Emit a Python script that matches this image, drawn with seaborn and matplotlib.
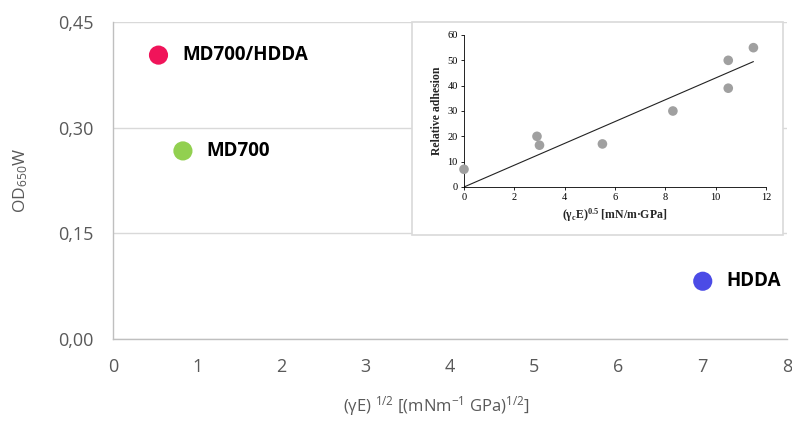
import matplotlib
matplotlib.use("Agg")
import matplotlib.pyplot as plt
import seaborn as sns
import pandas as pd
from matplotlib.patches import Rectangle

# Main chart data
labels = ['MD700/HDDA', 'MD700', 'HDDA']
x_main = [0.54, 0.83, 7.0]
y_main = [0.403, 0.267, 0.082]
colors = ['#F0145A', '#92D050', '#4B4BE6']

# Inset data
x_ins = [0.0, 2.9, 3.0, 5.5, 8.3, 10.5, 10.5, 11.5]
y_ins = [7, 20, 16.5, 17, 30, 50, 39, 55]
trend_x = [0.0, 11.5]
trend_y = [0.0, 49.5]

sns.set_theme(style='white')
plt.rcParams['font.family'] = ['Open Sans', 'DejaVu Sans']
plt.rcParams['mathtext.default'] = 'regular'

fig = plt.figure(figsize=(7.92, 4.24), dpi=100)
ax = fig.add_axes([113/792, 1-339/424, (787-113)/792, (339-22)/424])

df = pd.DataFrame({'x': x_main, 'y': y_main, 'label': labels})
sns.scatterplot(data=df, x='x', y='y', hue='label', palette=colors,
                s=190, edgecolor='none', legend=False, ax=ax, zorder=3)
for xi, yi, lab in zip(x_main, y_main, labels):
    ax.text(xi + 0.28, yi, lab, fontsize=13.5, fontweight='bold',
            color='black', va='center', ha='left', zorder=4)

ax.set_xlim(0, 8)
ax.set_ylim(0, 0.45)
ax.set_xticks(range(0, 9))
ax.set_yticks([0, 0.15, 0.30, 0.45])
ax.set_yticklabels(['0,00', '0,15', '0,30', '0,45'])
ax.tick_params(axis='both', labelsize=13, colors='#595959', length=0)
ax.tick_params(axis='x', pad=14)
ax.tick_params(axis='y', pad=14)
ax.yaxis.grid(True, color='#D9D9D9', linewidth=1)
ax.set_axisbelow(True)
for side in ['top', 'right']:
    ax.spines[side].set_visible(False)
for side in ['left', 'bottom']:
    ax.spines[side].set_color('#BFBFBF')
    ax.spines[side].set_linewidth(1)
ax.set_xlabel(r'(γE) $^{1/2}$ [(mNm$^{-1}$ GPa)$^{1/2}$]', fontsize=12,
              color='#595959')
ax.xaxis.set_label_coords(0.48, -0.175)
ax.set_ylabel(r'OD$_{650}$W', fontsize=12.5, color='#595959', labelpad=20)

# Inset frame (pasted picture)
fig.patches.append(Rectangle((412/792, 1-235/424), (783-412)/792, (235-22)/424,
                             transform=fig.transFigure, facecolor='white',
                             edgecolor='#D9D9D9', linewidth=1.2, zorder=5))

axi = fig.add_axes([464/792, 1-187/424, (766-464)/792, (187-35)/424], zorder=6)
axi.set_facecolor('white')
sns.lineplot(x=trend_x, y=trend_y, color='#222222', linewidth=0.8, ax=axi)
sns.scatterplot(x=x_ins, y=y_ins, color='#A0A0A0', s=48, edgecolor='none',
                ax=axi, zorder=3, clip_on=False)
axi.set_xlim(0, 12)
axi.set_ylim(0, 60)
axi.set_xticks(range(0, 13, 2))
axi.set_yticks(range(0, 61, 10))
for side in ['top', 'right']:
    axi.spines[side].set_visible(False)
for side in ['left', 'bottom']:
    axi.spines[side].set_color('black')
    axi.spines[side].set_linewidth(0.6)
serif = ['Liberation Serif', 'DejaVu Serif']
axi.tick_params(axis='both', labelsize=7.5, length=2.5, width=0.6, pad=2,
                colors='black', direction='out', bottom=True, left=True)
for t in axi.get_xticklabels() + axi.get_yticklabels():
    t.set_family(serif)
axi.set_xlabel(r'($\gamma_c$E)$^{0.5}$ [mN/m·GPa]', fontsize=8.5,
               fontweight='bold', family=serif, labelpad=3)
axi.set_ylabel('Relative adhesion', fontsize=8.5, fontweight='bold',
               family=serif, labelpad=3)

fig.savefig('out.png', dpi=100)
